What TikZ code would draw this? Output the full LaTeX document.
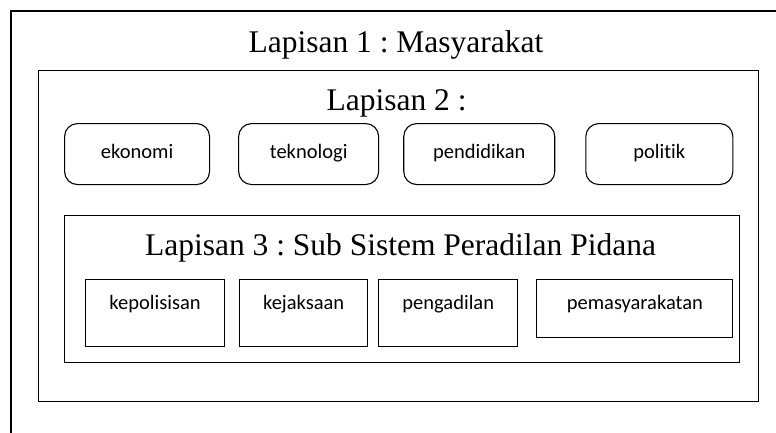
\documentclass[tikz,border=0pt]{standalone}
\usepackage{fontspec}
\setmainfont{Liberation Serif}
\newfontfamily\calibri[Ligatures=NoCommon]{Carlito}
\usetikzlibrary{positioning}
\frenchspacing

\tikzset{
  judul/.style={anchor=base, inner sep=0pt, font=\fontsize{31.5}{36}\selectfont},
  bingkai/.style={draw, line width=1.2pt, inner sep=0pt},
  faktor/.style={draw, line width=1.1pt, rounded corners=13pt, inner xsep=0pt, inner ysep=0pt,
    text height=35pt, text depth=26pt, font=\calibri\fontsize{20.5}{24}\selectfont},
  subsistem/.style={draw, line width=1.1pt, inner xsep=0pt, inner ysep=0pt,
    text height=30pt, text depth=37pt, font=\calibri\fontsize{20.5}{24}\selectfont},
}

\begin{document}
\begin{tikzpicture}[x=1pt,y=-1pt]

\useasboundingbox (0,0) rectangle (776,432);

% layers

\coordinate (l1a) at (11,11);
\coordinate (l1b) at (800,460);
\draw[line width=1.2pt] (l1a) rectangle (l1b);
\node[bingkai, anchor=north west, minimum width=720pt, minimum height=331pt] (l2) at (38,70) {};
\node[bingkai, anchor=north west, minimum width=675pt, minimum height=147pt] (l3) at (64,215) {};

% titles

\node[judul] (t1) at (396,52) {Lapisan 1 : Masyarakat};
\node[judul] (t2) at (396.5,110) {Lapisan 2 :};
\node[judul] (t3) at (400.5,255) {Lapisan 3 : Sub Sistem Peradilan Pidana};

% lapisan 2

\node[faktor, anchor=north west, minimum width=145pt] (eko) at (64,123) {ekonomi};
\node[faktor, right=28pt of eko.north east, anchor=north west, minimum width=140pt] (tek) {teknologi};
\node[faktor, right=24pt of tek.north east, anchor=north west, minimum width=151pt] (pen) {pendidikan};
\node[faktor, right=30pt of pen.north east, anchor=north west, minimum width=147pt] (pol) {politik};

% lapisan 3

\node[subsistem, anchor=north west, minimum width=139pt] (kp) at (85,279) {kepolisisan};
\node[subsistem, right=14pt of kp.north east, anchor=north west, minimum width=128pt] (kj) {kejaksaan};
\node[subsistem, right=10pt of kj.north east, anchor=north west, minimum width=139pt] (pg) {pengadilan};
\node[subsistem, right=18pt of pg.north east, anchor=north west, minimum width=196pt, text depth=28pt] (pm) {pemasyarakatan};

\end{tikzpicture}
\end{document}
